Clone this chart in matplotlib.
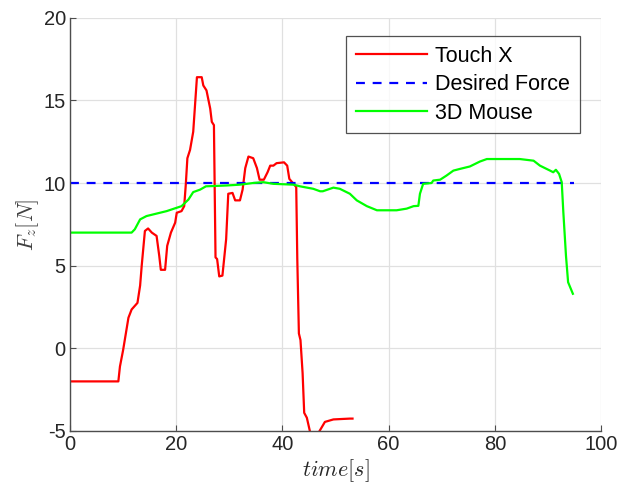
import matplotlib
matplotlib.use("Agg")
import matplotlib.pyplot as plt

# Touch X force samples (time [s], Fz [N])
touch_t = [0, 9.1, 9.4, 10.0, 11.0, 11.6, 12.7, 13.2, 13.5, 14.1, 14.7, 15.4, 16.3,
           16.8, 17.1, 17.9, 18.3, 19.0, 19.8, 20.1, 21.0, 21.5, 21.8, 22.1, 22.6,
           23.2, 23.9, 24.8, 25.1, 25.7, 26.4, 26.7, 27.1, 27.4, 27.7, 28.1, 28.7,
           29.4, 29.8, 30.6, 31.1, 32.0, 32.5, 33.0, 33.6, 34.5, 35.2, 35.7, 36.5,
           37.2, 37.7, 38.3, 38.9, 40.3, 40.9, 41.3, 42.1, 42.6, 42.8, 43.1, 43.4,
           43.8, 44.1, 44.6, 45.2, 46.0, 46.9, 48.0, 49.6, 52.7, 53.2]
touch_f = [-2.0, -2.0, -1.1, -0.1, 1.85, 2.35, 2.75, 3.8, 5.0, 7.1, 7.25, 7.0, 6.8,
           5.6, 4.75, 4.75, 6.2, 7.0, 7.6, 8.2, 8.3, 8.6, 9.9, 11.5, 12.0,
           13.1, 16.4, 16.4, 15.9, 15.6, 14.5, 13.7, 13.5, 5.5, 5.4, 4.35, 4.4,
           6.6, 9.35, 9.4, 8.95, 8.95, 9.6, 10.9, 11.6, 11.5, 10.9, 10.2, 10.2,
           10.65, 11.05, 11.05, 11.2, 11.25, 11.05, 10.25, 9.95, 9.75, 5.4, 0.9, 0.5,
           -1.5, -3.9, -4.2, -5.05, -5.4, -5.05, -4.45, -4.3, -4.25, -4.25]

# 3D Mouse force samples
mouse_t = [0, 11.6, 12.2, 13.2, 14.4, 16.3, 18.2, 21.0, 22.3, 23.2, 24.5, 25.6,
           29.5, 32.0, 34.5, 36.4, 38.3, 42.1, 43.3, 45.8, 47.1, 47.6, 49.6, 50.8,
           52.7, 54.0, 55.9, 57.8, 61.5, 63.4, 64.7, 65.6, 65.9, 66.5, 68.1, 68.4,
           69.7, 70.9, 72.2, 73.4, 75.3, 77.2, 78.5, 84.7, 87.3, 88.5, 90.4, 91.0,
           91.5, 92.1, 92.6, 92.9, 93.4, 93.8, 94.7]
mouse_f = [7.0, 7.0, 7.2, 7.8, 8.0, 8.15, 8.3, 8.6, 9.0, 9.45, 9.6, 9.8,
           9.85, 9.9, 10.0, 10.05, 9.95, 9.9, 9.8, 9.65, 9.5, 9.5, 9.72, 9.65,
           9.35, 8.95, 8.6, 8.35, 8.35, 8.45, 8.6, 8.62, 9.35, 9.95, 10.0, 10.15,
           10.2, 10.45, 10.75, 10.85, 11.0, 11.3, 11.45, 11.45, 11.35, 11.05, 10.75, 10.65,
           10.8, 10.55, 10.05, 8.25, 5.6, 4.0, 3.3]

desired_t = [0, 95]
desired_f = [10, 10]

plt.rcParams["font.family"] = ["Liberation Sans", "DejaVu Sans"]
plt.rcParams["mathtext.fontset"] = "cm"
plt.rcParams["axes.unicode_minus"] = False

fig = plt.figure(figsize=(6.17, 4.91), dpi=100)
ax = fig.add_axes([0.1135, 0.1222, 0.8606, 0.8418])

ax.plot(touch_t, touch_f, color="#ff0000", lw=1.6, label="Touch X")
ax.plot(desired_t, desired_f, color="#0000ff", lw=1.6, ls=(0, (4, 3.5)),
        label="Desired Force")
ax.plot(mouse_t, mouse_f, color="#00ff00", lw=1.6, label="3D Mouse")

ax.set_xlim(0, 100)
ax.set_ylim(-5, 20)
ax.set_xticks([0, 20, 40, 60, 80, 100])
ax.set_yticks([-5, 0, 5, 10, 15, 20])

ax.grid(True, color="#e0e0e0", lw=0.9)
ax.set_axisbelow(True)
for s in ["top", "right"]:
    ax.spines[s].set_visible(False)
for s in ["left", "bottom"]:
    ax.spines[s].set_color("#4d4d4d")
    ax.spines[s].set_linewidth(1.0)
ax.tick_params(direction="in", length=4, colors="#4d4d4d", labelcolor="#262626",
               labelsize=14.5, pad=3)

ax.set_xlabel(r"$time[s]$", fontsize=16, color="#262626", labelpad=2)
ax.set_ylabel(r"$F_z[N]$", fontsize=16, color="#404040", labelpad=2)

leg = ax.legend(loc="upper right", bbox_to_anchor=(0.960, 0.956), fontsize=15.5,
                frameon=True, fancybox=False, edgecolor="#262626",
                handlelength=3.3, borderpad=0.45, labelspacing=0.35,
                handletextpad=0.4, borderaxespad=0)
leg.get_frame().set_linewidth(0.9)

fig.savefig("out.png", dpi=100)
